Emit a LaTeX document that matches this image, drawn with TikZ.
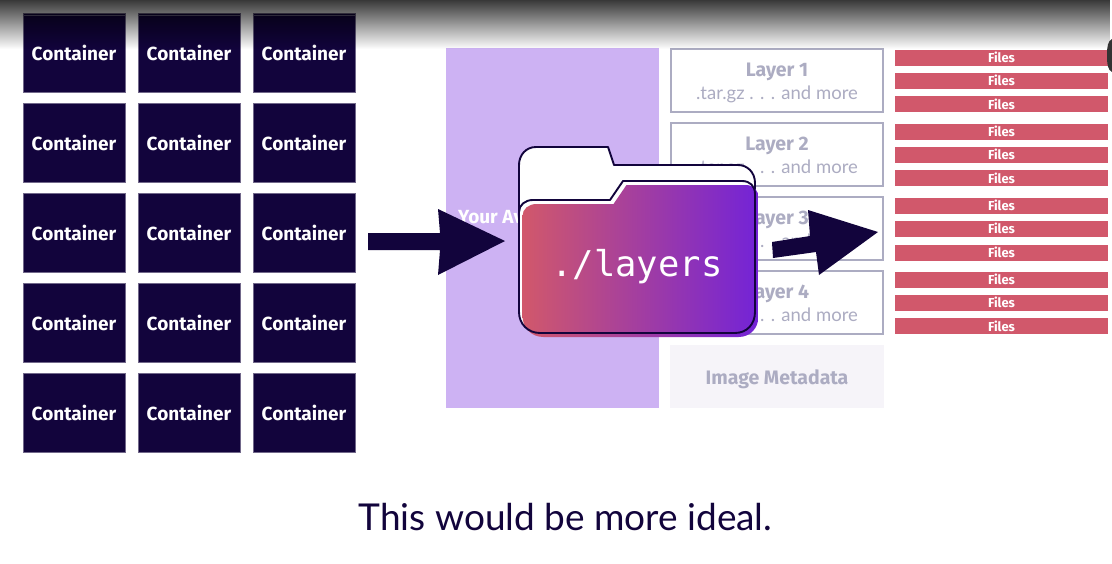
\documentclass[tikz,border=0pt]{standalone}
\usepackage{fontspec}
\setmainfont{Lato}
\newfontfamily\boldfont{Fira Sans}[BoldFont={Fira Sans Bold}]
\newfontfamily\codefont{DejaVu Sans Mono}
\usetikzlibrary{fadings}
\definecolor{inkc}{RGB}{18,4,60}
\definecolor{rosec}{RGB}{209,88,107}
\definecolor{violc}{RGB}{115,35,215}
\definecolor{lilac}{RGB}{205,178,243}
\definecolor{greyc}{RGB}{172,172,194}
\definecolor{paleb}{RGB}{246,244,249}
\tikzfading[name=topfade,top color=transparent!22,bottom color=transparent!100]
\tikzset{
  x=1pt,y=-1pt,
  cbox/.style={fill=inkc,draw=inkc!60!white,line width=.5pt,minimum width=102pt,minimum height=79pt,inner sep=0pt,text=white,font=\boldfont\fontsize{19}{21}\selectfont\bfseries},
  lbox/.style={draw=greyc,line width=2.8pt,fill=white,minimum width=212pt,minimum height=63pt,inner sep=0pt},
  ltitle/.style={text=greyc,font=\boldfont\fontsize{19.5}{21}\selectfont\bfseries,inner sep=0pt},
  lsub/.style={text=greyc,font=\fontsize{18.5}{22}\selectfont,inner sep=0pt},
  fbox/.style={fill=rosec,minimum width=213pt,minimum height=16pt,inner sep=0pt,text=white,font=\boldfont\fontsize{13}{14}\selectfont\bfseries},
  solidarrow/.style={fill=inkc,draw=none},
  folderline/.style={draw=inkc,line width=1.9pt,line join=round},
}
\begin{document}
\begin{tikzpicture}
\useasboundingbox (0,0) rectangle (1112,563);
\fill[white] (0,0) rectangle (1112,563);
% containers
\foreach \yy [count=\r] in {52.5,142.5,232.5,322.5,412.5}
  \foreach \xx [count=\c] in {74,189,304}
    \node[cbox] (c\r\c) at (\xx,\yy) {Container};
\foreach \c in {1,2,3}
  \draw[inkc!65!white,line width=.8pt] ([yshift=-3pt]c1\c.north west) -- ([yshift=-3pt]c1\c.north east);
% app block
\fill[lilac] (446,48) rectangle (659,408);
\node[text=white,font=\boldfont\fontsize{19}{21}\selectfont\bfseries,anchor=west,inner sep=0pt] (app) at (458,217) {Your Av};
% layers
\foreach \yy [count=\i] in {80.5,154.5,228.5,302.5}{
  \node[lbox] (l\i) at (777,\yy) {};
  \node[ltitle] (lt\i) at (777,\yy-8.5) {Layer \i};
  \node[lsub] (ls\i) at (777,\yy+13.5) {.tar.gz . . . and more};
}
\node[fill=paleb,minimum width=214pt,minimum height=63pt,inner sep=0pt] (meta) at (777,376.5) {};
\node[text=greyc,font=\boldfont\fontsize{19.5}{21}\selectfont\bfseries,inner sep=0pt] (metat) at (777,379) {Image Metadata};
% files
\foreach \yy [count=\i] in {57.5,80.5,104,131.5,154.5,178,205.5,228.5,252.5,279.5,302.5,326}
  \node[fbox] (f\i) at (1001.5,\yy) {Files};
% arrow into folder
\fill[solidarrow] (368,233) -- (440,233) -- (438,209) -- (505,241) -- (438,275) -- (440,250) -- (368,250) -- cycle;
% folder
\def\frontpath{(519,212) .. controls (519,205) and (525,200) .. (533,200) -- (610,200) -- (623,181) -- (742,181) .. controls (750,181) and (755,186) .. (755,194) -- (755,312) .. controls (755,324) and (747,333) .. (735,333) -- (540,333) .. controls (528,333) and (519,324) .. (519,312) -- cycle}
\path[fill=white,folderline] (519,215) -- (519,165) .. controls (519,155) and (526,147) .. (536,147) -- (608,147) -- (614,165) -- (738,165) .. controls (747,165) and (755,172) .. (755,183) -- (755,200) -- (519,215) -- cycle;
\fill[white] \frontpath;
\begin{scope}[shift={(3.5pt,-4pt)}]
\shade[left color=rosec,right color=violc,shading angle=90] \frontpath;
\end{scope}
\path[folderline] \frontpath;
\node[text=white,font=\codefont\fontsize{35.5}{38}\selectfont,inner sep=0pt] (flabel) at (637,266.5) {./layers};
% arrow out of folder
\fill[solidarrow] (772,242) -- (810,236) -- (808,210) -- (878,232) -- (819,275) -- (816,252) -- (773,258) -- cycle;
% caption
\node[text=inkc,font=\fontsize{37}{42}\selectfont,inner sep=0pt] (cap) at (565.5,517) {This would be more ideal.};
% top vignette
\fill[black,path fading=topfade] (0,0) rectangle (1112,49);
\fill[black!80] (1112,39) .. controls (1108,41) and (1107,46) .. (1107,55) .. controls (1107,65) and (1108,70) .. (1112,72) -- cycle;
\end{tikzpicture}
\end{document}
